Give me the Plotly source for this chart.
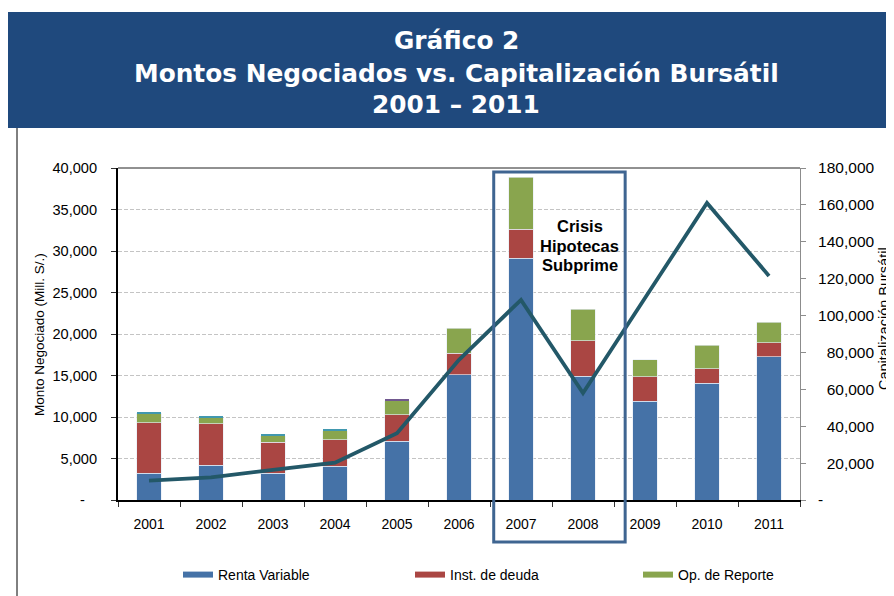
import plotly.graph_objects as go

years = ["2001", "2002", "2003", "2004", "2005", "2006", "2007", "2008", "2009", "2010", "2011"]
renta_variable = [3220, 4180, 3220, 4060, 7100, 15100, 29100, 14900, 11900, 14060, 17260]
inst_deuda = [6090, 5010, 3730, 3170, 3180, 2600, 3500, 4300, 2960, 1740, 1690]
op_reporte = [1140, 730, 800, 1120, 1650, 3000, 6280, 3770, 2010, 2870, 2450]
otros_a = [150, 120, 200, 160, 0, 0, 0, 0, 0, 0, 0]
otros_b = [0, 0, 0, 0, 240, 0, 0, 0, 0, 0, 0]
capitalizacion = [10500, 12300, 16300, 20200, 36200, 76000, 108500, 58000, 109500, 161000, 121500]

series_names = ["Renta Variable", "Inst. de deuda", "Op. de Reporte"]
series_colors = ["#4572A7", "#AA4643", "#89A54E"]

left_ticks = list(range(0, 40001, 5000))
right_ticks = list(range(0, 180001, 20000))

title_lines = ["Gráfico 2", "Montos Negociados vs. Capitalización Bursátil", "2001 – 2011"]
crisis_lines = ["Crisis", "Hipotecas", "Subprime"]

W, H = 894, 596
OFF = 8  # page body margin
PL, PR, PT, PB = 118, 800, 168, 500  # plot area in page px
L, R, T, B = PL - OFF, PR - OFF, PT - OFF, PB - OFF


def px(xp):
    return (xp - PL) / (PR - PL)


def py(yp):
    return (PB - yp) / (PB - PT)


def cx(xp):
    return (xp - OFF) / W


def cy(yp):
    return 1 - (yp - OFF) / H


def left_label(v):
    return "-\u00a0\u00a0\u00a0" if v == 0 else f"{v:,}"


def right_label(v):
    if v == 0:
        return "-"
    s = f"{v:,}"
    return "\u00a0" * (2 * (7 - len(s))) + s


FONT = "Liberation Sans, Arial, sans-serif"

fig = go.Figure()
edge = dict(color="rgba(230,236,245,0.8)", width=0.8)
for vals, nm, col in zip([renta_variable, inst_deuda, op_reporte], series_names, series_colors):
    fig.add_bar(x=years, y=vals, name=nm, showlegend=False, marker=dict(color=col, line=edge))
fig.add_bar(x=years, y=otros_a, name="Otros", showlegend=False, marker=dict(color="#4198AF", line=dict(width=0)))
fig.add_bar(x=years, y=otros_b, name="Otros 2", showlegend=False, marker=dict(color="#71588F", line=dict(width=0)))
fig.add_scatter(x=years, y=capitalizacion, yaxis="y2", mode="lines", name="Capitalización Bursátil",
                showlegend=False, line=dict(color="#235868", width=3.8))

legend_ids = ["legend", "legend2", "legend3"]
legend_starts = [178, 410, 638]  # page px where each legend entry begins
for nm, col, lid in zip(series_names, series_colors, legend_ids):
    fig.add_scatter(x=[None], y=[None], mode="lines", name=nm, line=dict(color=col, width=6),
                    hoverinfo="skip", legend=lid)

shapes = [
    dict(type="rect", xref="paper", yref="paper", x0=px(8), x1=px(910), y0=py(128), y1=py(12),
         fillcolor="#1F497D", line=dict(width=0), layer="below"),
    dict(type="line", xref="paper", yref="paper", x0=px(17), x1=px(17), y0=py(128), y1=py(610),
         line=dict(color="#000000", width=1)),
    dict(type="line", xref="paper", yref="paper", x0=0, x1=1, y0=1, y1=1,
         line=dict(color="#222222", width=1)),
    dict(type="rect", xref="x", yref="paper", x0=5.56, x1=7.68, y0=py(542), y1=py(172),
         line=dict(color="#3F6591", width=3), fillcolor="rgba(0,0,0,0)", layer="above"),
]

annotations = []
for txt, yc in zip(title_lines, [41, 73, 104]):
    annotations.append(dict(text=f"<b>{txt}</b>", xref="paper", yref="paper", x=px(456), y=py(yc),
                            xanchor="center", yanchor="middle", showarrow=False,
                            font=dict(family="DejaVu Sans, sans-serif", size=24.8, color="white")))
for txt, yc in zip(crisis_lines, [226, 246, 265]):
    annotations.append(dict(text=f"<b>{txt}</b>", xref="x", yref="paper", x=6.95, y=py(yc),
                            xanchor="center", yanchor="middle", showarrow=False,
                            font=dict(family=FONT, size=16.5, color="black")))
annotations += [
    dict(text="Monto Negociado (Mill. S/.)", xref="paper", yref="paper", x=px(39), y=py(335),
         xanchor="center", yanchor="middle", textangle=-90, showarrow=False,
         font=dict(family=FONT, size=13.5, color="black")),
    dict(text="Capitalización Bursátil", xref="paper", yref="paper", x=px(884), y=py(318),
         xanchor="center", yanchor="middle", textangle=-90, showarrow=False,
         font=dict(family=FONT, size=14.5, color="black")),
]

legend_style = dict(orientation="h", xref="container", yref="container", xanchor="left",
                    yanchor="middle", font=dict(size=14), bgcolor="rgba(0,0,0,0)")
legends = {lid: dict(legend_style, x=cx(xs), y=cy(575)) for lid, xs in zip(legend_ids, legend_starts)}

fig.update_layout(
    width=W, height=H,
    margin=dict(l=L, r=W - R, t=T, b=H - B, pad=0, autoexpand=False),
    barmode="stack", bargap=0.6,
    plot_bgcolor="white", paper_bgcolor="white",
    font=dict(family=FONT, size=14, color="black"),
    shapes=shapes, annotations=annotations,
    xaxis=dict(type="category", showline=True, linecolor="black", linewidth=2,
               ticks="outside", tickson="boundaries", ticklen=5, tickcolor="#333333",
               showgrid=False, ticklabelstandoff=10, tickfont=dict(size=14)),
    yaxis=dict(range=[0, 40000], tickvals=left_ticks, ticktext=[left_label(v) for v in left_ticks],
               showline=True, linecolor="black", linewidth=2, ticks="outside", ticklen=5,
               tickcolor="#333333", showgrid=True, gridcolor="#C4C4C4", griddash="4px,2px", gridwidth=1,
               zeroline=False, ticklabelstandoff=11, tickfont=dict(size=14.6)),
    yaxis2=dict(range=[0, 180000], overlaying="y", side="right", tickvals=right_ticks,
                ticktext=[right_label(v) for v in right_ticks], showline=True, linecolor="#8C8C8C",
                linewidth=1, ticks="outside", ticklen=5, tickcolor="#8C8C8C", showgrid=False,
                zeroline=False, ticklabelstandoff=9, tickfont=dict(size=15.5)),
    **legends,
)

fig.write_html("out.html")
